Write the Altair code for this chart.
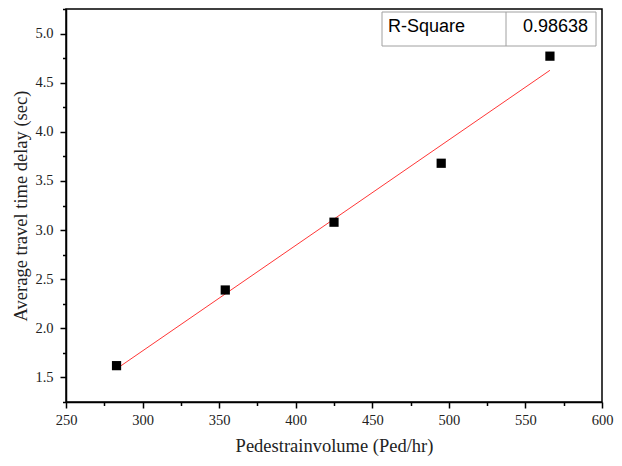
import altair as alt
import pandas as pd

# data
volume = [283, 354, 425, 495, 566]
delay = [1.62, 2.39, 3.08, 3.68, 4.77]
r_square_label = ["R-Square"]
r_square_value = ["0.98638"]

x_major = [250, 300, 350, 400, 450, 500, 550, 600]
x_minor = [275, 325, 375, 425, 475, 525, 575]
y_major = [1.5, 2.0, 2.5, 3.0, 3.5, 4.0, 4.5, 5.0]
y_minor = [1.25, 1.75, 2.25, 2.75, 3.25, 3.75, 4.25, 4.75, 5.25]

df = pd.DataFrame({"volume": volume, "delay": delay})
box_df = pd.DataFrame({"label": r_square_label, "value": r_square_value})

SERIF = "Liberation Serif"
x_scale = alt.Scale(domain=[250, 600], nice=False, zero=False)
y_scale = alt.Scale(domain=[1.25, 5.25], nice=False, zero=False)

x_main = alt.X(
    "volume:Q",
    scale=x_scale,
    axis=alt.Axis(
        title="Pedestrainvolume (Ped/hr)",
        orient="bottom",
        values=x_major,
        tickSize=6,
        grid=False,
        labelFlush=False,
        labelOverlap=False,
        labelPadding=5,
        titlePadding=10,
    ),
)
y_main = alt.Y(
    "delay:Q",
    scale=y_scale,
    axis=alt.Axis(
        title="Average travel time delay (sec)",
        orient="left",
        values=y_major,
        format=".1f",
        tickSize=6,
        grid=False,
        labelFlush=False,
        labelOverlap=False,
        labelPadding=7,
        titlePadding=4,
    ),
)
x_min = alt.X(
    "volume:Q",
    scale=x_scale,
    axis=alt.Axis(orient="bottom", values=x_minor, tickSize=3.5, labels=False, title=None,
                  grid=False, domain=False),
)
y_min = alt.Y(
    "delay:Q",
    scale=y_scale,
    axis=alt.Axis(orient="left", values=y_minor, tickSize=3.5, labels=False, title=None,
                  grid=False, domain=False),
)

base = alt.Chart(df)

fit = (
    base.transform_regression("volume", "delay")
    .mark_line(color="#ff2020", strokeWidth=1, opacity=0.9)
    .encode(x=x_main, y=y_main)
)

points = base.mark_point(shape="square", filled=True, color="black", size=85, opacity=1).encode(
    x=x_min, y=y_min
)

box = alt.Chart(box_df).mark_rect(fill="white", stroke="#a0a0a0", strokeWidth=1).encode(
    x=alt.value(316), x2=alt.value(530), y=alt.value(3), y2=alt.value(37)
)
divider = alt.Chart(box_df).mark_rule(color="#a0a0a0", strokeWidth=1).encode(
    x=alt.value(440), y=alt.value(3), y2=alt.value(37)
)
label_text = alt.Chart(box_df).mark_text(
    font="Liberation Sans", fontSize=18, align="left", baseline="alphabetic", color="black"
).encode(x=alt.value(322), y=alt.value(22.5), text="label:N")
value_text = alt.Chart(box_df).mark_text(
    font="Liberation Sans", fontSize=18, align="right", baseline="alphabetic", color="black"
).encode(x=alt.value(522), y=alt.value(22.5), text="value:N")

chart = (
    alt.layer(fit, points, box, divider, label_text, value_text)
    .resolve_axis(x="independent", y="independent")
    .properties(
        width=536,
        height=393,
        autosize=alt.AutoSizeParams(type="none"),
        padding={"left": 58, "top": 1, "right": 12, "bottom": 56},
        background="white",
    )
    .configure_view(stroke="black", strokeWidth=1.5)
    .configure_axis(
        domainColor="black",
        domainWidth=1.5,
        tickColor="black",
        tickWidth=1.5,
        labelFont=SERIF,
        labelFontSize=14.5,
        labelColor="#222222",
        titleFont=SERIF,
        titleFontSize=18.5,
        titleFontWeight="normal",
        titleColor="#222222",
    )
)

chart.save("out.html", embed_options={"renderer": "svg", "actions": False})
